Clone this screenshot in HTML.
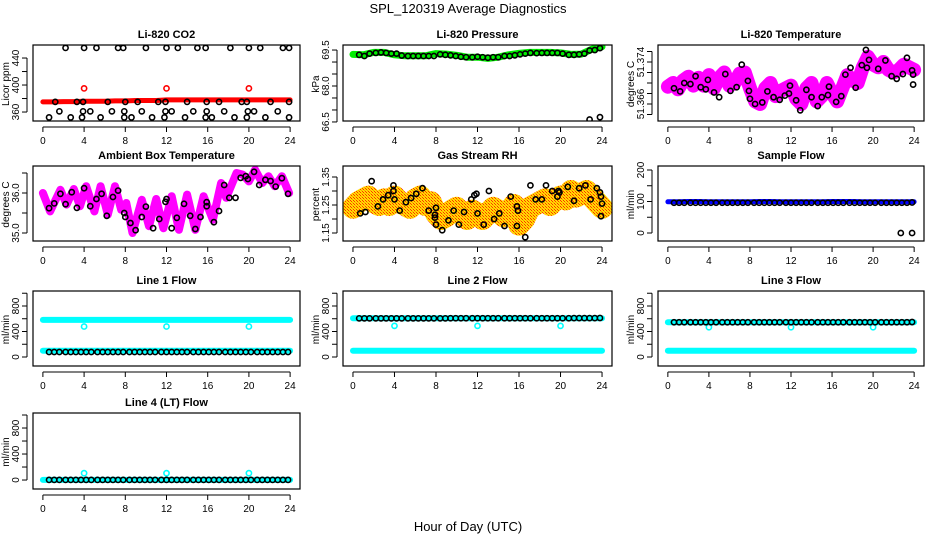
<!DOCTYPE html>
<html><head><meta charset="utf-8"><style>
html,body{margin:0;padding:0;background:#fff;}
svg{display:block;font-family:"Liberation Sans",Arial,sans-serif;}
</style></head><body>
<svg id="fig" width="936" height="540" viewBox="0 0 936 540">
<rect width="936" height="540" fill="#fff"/>
<defs>
<pattern id="rhpat" width="3" height="3" patternUnits="userSpaceOnUse"><rect width="3" height="3" fill="#ffdd00"/><rect width="1" height="1" fill="#ff3000"/><rect x="1" y="1" width="1" height="1" fill="#ff9900"/><rect x="2" y="2" width="1" height="1" fill="#ff3000"/></pattern>
</defs>
<text x="468" y="13" text-anchor="middle" font-size="13">SPL_120319  Average Diagnostics</text>
<text x="468" y="531" text-anchor="middle" font-size="13">Hour of Day (UTC)</text>
</svg>
<script>
// ---------- data ----------
const blkHours=[0.6,1.1,1.6,2.2,2.7,3.2,3.7,4.2,4.7,5.3,5.8,6.3,6.8,7.3,7.8,8.4,8.9,9.4,9.9,10.4,10.9,11.5,12.0,12.5,13.0,13.5,14.0,14.6,15.1,15.6,16.1,16.6,17.1,17.7,18.2,18.7,19.2,19.7,20.2,20.8,21.3,21.8,22.3,22.8,23.3,23.8];
const hourHours=[0,1,2,3,4,5,6,7,8,9,10,11,12,13,14,15,16,17,18,19,20,21,22,23,24];
const halfHours=[0,0.5,1,1.5,2,2.5,3,3.5,4,4.5,5,5.5,6,6.5,7,7.5,8,8.5,9,9.5,10,10.5,11,11.5,12,12.5,13,13.5,14,14.5,15,15.5,16,16.5,17,17.5,18,18.5,19,19.5,20,20.5,21,21.5,22,22.5,23,23.5,24];
const outHours=[4,12,20];

// CO2
const co2Red=[375,375,375.5,375.5,376,376,376,376.5,376.5,377,377,377,378,378,378,378,378,378,378,378,378,378,378,378,378];
const co2RedOut=[395,395,395];
const co2BlkHours=[2.2,4.0,5.2,7.3,7.8,10.0,12.0,13.1,15.0,15.8,18.2,20.0,21.1,23.3,23.9,1.2,3.3,3.9,6.3,8.0,9.2,11.2,11.9,14.0,15.9,17.1,19.3,19.8,22.1,23.9,1.6,3.9,4.6,6.7,7.9,9.6,11.9,12.5,14.6,15.9,17.6,19.9,20.5,22.8,0.6,2.7,3.8,5.6,7.9,8.6,10.6,11.8,13.8,15.8,16.4,18.6,19.8,21.6,23.9];
const co2BlkVals=[455,455,455,455,455,455,455,455,455,455,455,455,455,455,455,375,375,375,375,375,375,375,375,375,375,375,375,375,375,375,361,361,361,361,361,361,361,361,361,361,361,361,361,361,352,352,352,352,352,352,352,352,352,352,352,352,352,352,352];

// Pressure
const presGreen=[69.32,69.3,69.4,69.4,69.3,69.26,69.26,69.26,69.35,69.33,69.28,69.2,69.2,69.15,69.2,69.3,69.36,69.4,69.4,69.4,69.38,69.32,69.33,69.53,69.64];
const presBlk=[69.3,69.25,69.35,69.38,69.4,69.38,69.35,69.35,69.27,69.25,69.25,69.25,69.25,69.25,69.25,69.32,69.3,69.28,69.25,69.22,69.2,69.2,69.22,69.2,69.18,69.2,69.2,69.25,69.25,69.28,69.32,69.35,69.38,69.37,69.38,69.38,69.38,69.38,69.35,69.3,69.3,69.32,69.35,69.48,69.5,69.58];
const presOutHours=[22.8,23.8];
const presOutVals=[66.6,66.7];

// Li-820 temperature
const tempMag=[51.3693,51.3700,51.3688,51.3705,51.3712,51.3695,51.3710,51.3695,51.3715,51.3690,51.3710,51.3720,51.3695,51.3700,51.3718,51.3720,51.3690,51.3665,51.3660,51.3690,51.3700,51.3675,51.3685,51.3690,51.3695,51.3670,51.3660,51.3690,51.3700,51.3665,51.3675,51.3700,51.3680,51.3665,51.3690,51.3715,51.3705,51.3700,51.3730,51.3750,51.3735,51.3730,51.3740,51.3725,51.3720,51.3725,51.3735,51.3730,51.3725];
const tempBlkHours=[0.6,1.2,1.6,2.2,2.7,3.2,3.7,3.9,4.5,5.0,5.6,6.1,6.7,7.2,7.8,7.9,8.0,8.5,9.2,9.7,10.3,10.9,11.4,11.8,11.9,12.5,12.9,13.5,14.0,14.6,15.0,15.6,15.7,16.4,16.9,17.3,17.8,18.3,18.9,19.3,19.4,19.6,20.5,21.2,21.8,22.3,22.9,23.3,23.8,23.9,23.9];
const tempBlkVals=[51.369,51.3684,51.370,51.3698,51.3713,51.3692,51.3688,51.3706,51.3682,51.3673,51.3717,51.3685,51.3692,51.3735,51.3704,51.3685,51.367,51.366,51.3663,51.3684,51.3673,51.3668,51.3676,51.368,51.3695,51.3667,51.3648,51.3687,51.3673,51.3656,51.3673,51.3677,51.3693,51.3664,51.3675,51.3716,51.3729,51.3691,51.3734,51.3763,51.3729,51.3744,51.3727,51.3743,51.3713,51.3708,51.3717,51.3748,51.3724,51.3716,51.3697];

// Ambient box temperature
const ambHours=[0,0.7,1.7,2.3,3.0,3.6,4.2,5.0,5.6,6.3,7.0,7.6,8.1,8.7,9.6,10.3,11.0,11.7,12.5,13.2,14.0,14.8,15.6,16.5,17.3,17.8,18.8,19.4,20.0,20.6,21.3,21.9,22.5,23.2,23.9];
const ambVals=[36.0,35.54,36.08,35.71,36.1,35.67,36.17,35.54,36.17,35.46,36.17,35.58,35.75,35.0,35.83,35.17,35.85,35.12,35.92,35.08,35.96,35.08,35.92,35.33,36.25,35.88,36.5,36.46,36.29,36.58,36.25,36.42,36.17,36.42,36.0];
const ambBlkHours=[0.6,1.1,1.7,2.2,2.8,3.3,4.0,4.6,5.2,5.7,6.2,6.8,7.3,7.9,8.0,8.5,9.0,9.6,10.0,10.7,11.3,11.9,12.0,12.5,13.0,13.7,14.3,14.8,15.3,15.9,15.9,16.6,17.1,17.6,18.1,18.7,19.2,19.7,19.9,20.5,21.0,21.6,22.1,22.6,23.2,23.8];
const ambBlkVals=[35.62,35.74,35.98,35.72,36.02,35.63,36.12,35.67,35.85,35.98,35.43,35.9,36.06,35.5,35.4,35.25,35.07,35.4,35.66,35.12,35.35,35.78,35.85,35.12,35.38,35.73,35.43,35.1,35.4,35.77,35.67,35.27,35.55,36.2,35.88,35.88,36.38,36.42,36.35,36.53,36.2,36.33,36.3,36.16,36.37,35.98];

// Gas stream RH
const rhVals=[1.24,1.26,1.27,1.28,1.26,1.25,1.27,1.25,1.28,1.26,1.25,1.24,1.27,1.28,1.25,1.26,1.22,1.20,1.21,1.23,1.24,1.22,1.20,1.23,1.22,1.20,1.22,1.24,1.23,1.21,1.22,1.25,1.18,1.20,1.24,1.25,1.26,1.27,1.25,1.27,1.28,1.27,1.30,1.28,1.29,1.30,1.28,1.26,1.24];
const rhBlkHours=[0.7,1.2,1.8,2.4,2.9,3.4,3.9,3.9,4.0,4.5,5.1,5.6,6.1,6.7,7.3,7.9,7.9,8.0,8.0,8.6,9.2,9.7,10.2,10.7,11.4,11.7,11.9,12.0,12.6,13.1,13.6,14.1,14.6,15.2,15.8,15.9,15.8,16.6,17.1,17.6,18.2,18.6,19.2,19.7,19.9,19.8,20.7,21.3,21.8,22.4,22.9,23.5,23.8,23.9,23.9,24.0];
const rhBlkVals=[1.22,1.225,1.335,1.245,1.27,1.285,1.32,1.30,1.27,1.23,1.26,1.275,1.29,1.31,1.23,1.215,1.205,1.24,1.18,1.16,1.195,1.23,1.18,1.225,1.27,1.285,1.29,1.22,1.18,1.30,1.20,1.22,1.175,1.28,1.245,1.23,1.175,1.135,1.32,1.27,1.27,1.32,1.30,1.28,1.295,1.30,1.315,1.265,1.31,1.32,1.27,1.31,1.295,1.28,1.21,1.255];

// Sample flow
const sampBlue=[99,99,100,100,99,99,99,99,99,100,100,99,99,99,99,99,100,100,100,99,99,99,99,99,99];
const sampBlk=[96,96,96,96,96,96,96,96,96,96,96,96,96,96,96,96,96,96,96,96,96,96,96,96,96,96,96,96,96,96,96,96,96,96,96,96,96,96,96,96,96,96,96,96,96,97];
const sampOutHours=[22.7,23.8];
const sampOutVals=[0,0];

// Line flows
const l1High=[582,582,582,582,582,582,582,582,582,582,582,582,582,582,582,582,582,582,582,582,582,582,582,582,582];
const l1Low=[99,99,99,99,99,99,99,99,99,99,99,99,99,99,99,99,99,99,99,99,99,99,99,99,99];
const l1Blk=[78,78,78,78,78,78,78,78,78,78,78,78,78,78,78,78,78,78,78,78,78,78,78,78,78,78,78,78,78,78,78,78,78,78,78,78,78,78,78,78,78,78,78,78,78,78];
const l1Out=[478,478,478];
const l2High=[608,608,608,608,608,608,608,608,608,608,608,608,608,608,608,608,608,608,608,608,608,608,608,608,608];
const l2Low=[99,99,99,99,99,99,99,99,99,99,99,99,99,99,99,99,99,99,99,99,99,99,99,99,99];
const l2Blk=[606,606,606,606,606,606,606,606,606,606,606,606,606,606,606,606,606,608,608,608,608,608,608,608,608,608,608,608,608,608,608,608,608,608,608,608,608,608,608,608,610,610,610,610,610,612];
const l2Out=[488,488,488];
const l3High=[545,545,545,545,545,545,545,545,545,545,545,545,545,545,545,545,545,545,545,545,545,545,545,545,545];
const l3Low=[99,99,99,99,99,99,99,99,99,99,99,99,99,99,99,99,99,99,99,99,99,99,99,99,99];
const l3Blk=[545,545,545,545,545,545,545,545,545,545,545,545,545,545,545,545,545,545,545,545,545,545,545,545,545,545,545,545,545,545,545,545,545,545,545,545,545,545,545,545,545,545,545,545,545,548];
const l3Out=[467,467,467];
const l4Cyan=[2,2,2,2,2,2,2,2,2,2,2,2,2,2,2,2,2,2,2,2,2,2,2,2,2];
const l4Blk=[2,2,2,2,2,2,2,2,2,2,2,2,2,2,2,2,2,2,2,2,2,2,2,2,2,2,2,2,2,2,2,2,2,2,2,2,2,2,2,2,2,2,2,2,2,2];
const l4Out=[105,105,105];

const xTicks=[0,4,8,12,16,20,24];

// ---------- drawing ----------
const NS='http://www.w3.org/2000/svg';
const svg=document.getElementById('fig');
function mk(tag,attrs,parent){const e=document.createElementNS(NS,tag);for(const k in attrs)e.setAttribute(k,attrs[k]);(parent||svg).appendChild(e);return e;}

function panel(key,L,T,W,H,ymin,ymax,yticks,ylabels,title,ylab){
  const g=mk('g',{});
  
  
  const xs=h=>L+(h+0.96)/25.92*W;
  const ys=v=>T+H-(v-ymin)/(ymax-ymin)*H;
  const t=mk('text',{x:L+W/2,y:T-7,'text-anchor':'middle','font-size':11,'font-weight':'bold'},g);
  t.textContent=title;
  
  
  const xa=mk('g',{stroke:'#000','stroke-width':1},g);
  
  
  mk('line',{x1:xs(xTicks[0]),x2:xs(xTicks[xTicks.length-1]),y1:T+H+6,y2:T+H+6},xa);
  xTicks.forEach(v=>{
    mk('line',{x1:xs(v),x2:xs(v),y1:T+H+6,y2:T+H+11},xa);
    const lt=mk('text',{x:xs(v),y:T+H+23,'text-anchor':'middle','font-size':10,stroke:'none'},xa);
    lt.textContent=v;
    
    
  });
  const ya=mk('g',{stroke:'#000','stroke-width':1},g);
  
  
  mk('line',{x1:L-6,x2:L-6,y1:ys(yticks[0]),y2:ys(yticks[yticks.length-1])},ya);
  yticks.forEach(v=>mk('line',{x1:L-11,x2:L-6,y1:ys(v),y2:ys(v)},ya));
  ylabels.forEach(lb=>{
    const yy=ys(parseFloat(lb));
    const lt=mk('text',{x:0,y:0,'text-anchor':'middle','font-size':10,stroke:'none',transform:`translate(${L-14},${yy}) rotate(-90)`},ya);
    lt.textContent=lb;
    
    
  });
  const yt=mk('text',{x:0,y:0,'text-anchor':'middle','font-size':10,transform:`translate(${L-24},${T+H/2+1}) rotate(-90)`},g);
  yt.textContent=ylab;
  
  
  const clipId='clip-'+key;
  const cp=mk('clipPath',{id:clipId},g);mk('rect',{x:L,y:T,width:W,height:H},cp);
  const plot=mk('g',{'clip-path':`url(#${clipId})`},g);
  
  
  const box=mk('rect',{x:L,y:T,width:W,height:H,fill:'none',stroke:'#000','stroke-width':1.2},g);
  
  
  return {xs,ys,plot};
}
function band(p,name,hours,vals,color,width){
  const pts=hours.map((h,i)=>p.xs(h).toFixed(1)+','+p.ys(vals[i]).toFixed(1)).join(' ');
  const pl=mk('polyline',{points:pts,fill:'none',stroke:color,'stroke-width':width,'stroke-linejoin':'round','stroke-linecap':'round'},p.plot);
  
  
}
function pts(p,name,hours,vals,color,r,sw){
  const g=mk('g',{fill:'none',stroke:color,'stroke-width':sw||1.6},p.plot);
  
  
  hours.forEach((h,i)=>{
    const c=mk('circle',{cx:p.xs(h),cy:p.ys(vals[i]),r:r||2.6},g);
    
    
  });
}
const cols=[[33,267],[343,269],[658,266]];
const rows=[[45,76],[166,75],[291,75],[413,76]];
const flowTicks=[0,200,400,600,800,1000];
const flowLabels=['0','400','800'];

let p=panel('co2',cols[0][0],rows[0][0],cols[0][1],rows[0][1],346.7,459.3,[360,380,400,420,440],['360','400','440'],'Li-820 CO2','Licor ppm');
band(p,'co2-red-band',hourHours,co2Red,'#ff0000',5);
pts(p,'co2-red-outliers',outHours,co2RedOut,'#ff0000');
pts(p,'co2-black-points',co2BlkHours,co2BlkVals,'#000');

p=panel('pressure',cols[1][0],rows[0][0],cols[1][1],rows[0][1],66.54,69.71,[66.5,67.0,67.5,68.0,68.5,69.0,69.5],['66.5','68.0','69.5'],'Li-820 Pressure','kPa');
band(p,'pressure-green-band',hourHours,presGreen,'#00ee00',7);
pts(p,'pressure-black-points',blkHours,presBlk,'#000');
pts(p,'pressure-outliers',presOutHours,presOutVals,'#000');

p=panel('li820-temp',cols[2][0],rows[0][0],cols[2][1],rows[0][1],51.36276,51.37724,[51.364,51.366,51.368,51.370,51.372,51.374,51.376],['51.366','51.374'],'Li-820 Temperature','degrees C');
band(p,'temp-magenta-band',halfHours,tempMag,'#ff00ff',14);
pts(p,'temp-magenta-points',halfHours,tempMag,'#ff00ff',3.5,2);
pts(p,'temp-black-points',tempBlkHours,tempBlkVals,'#000');

p=panel('ambient',cols[0][0],rows[1][0],cols[0][1],rows[1][1],34.8,36.675,[35.0,35.5,36.0,36.5],['35.0','36.0'],'Ambient Box Temperature','degrees C');
band(p,'ambient-magenta-band',ambHours,ambVals,'#ff00ff',8);
pts(p,'ambient-black-points',ambBlkHours,ambBlkVals,'#000');

p=panel('rh',cols[1][0],rows[1][0],cols[1][1],rows[1][1],1.1214,1.3893,[1.15,1.20,1.25,1.30,1.35],['1.15','1.25','1.35'],'Gas Stream RH','percent');
band(p,'rh-band',halfHours,rhVals,'url(#rhpat)',22);
pts(p,'rh-black-points',rhBlkHours,rhBlkVals,'#000');

p=panel('sample-flow',cols[2][0],rows[1][0],cols[2][1],rows[1][1],-25.4,212.7,[0,50,100,150,200],['0','100','200'],'Sample Flow','ml/min');
band(p,'sample-blue-band',hourHours,sampBlue,'#0000ff',5);
pts(p,'sample-black-points',blkHours,sampBlk,'#000');
pts(p,'sample-outliers',sampOutHours,sampOutVals,'#000');

p=panel('line1',cols[0][0],rows[2][0],cols[0][1],rows[2][1],-141,1035,flowTicks,flowLabels,'Line 1 Flow','ml/min');
band(p,'line1-cyan-high',hourHours,l1High,'#00ffff',6);
band(p,'line1-cyan-low',hourHours,l1Low,'#00ffff',6);
pts(p,'line1-cyan-outliers',outHours,l1Out,'#00ffff');
pts(p,'line1-black-points',blkHours,l1Blk,'#000');

p=panel('line2',cols[1][0],rows[2][0],cols[1][1],rows[2][1],-141,1035,flowTicks,flowLabels,'Line 2 Flow','ml/min');
band(p,'line2-cyan-high',hourHours,l2High,'#00ffff',6);
band(p,'line2-cyan-low',hourHours,l2Low,'#00ffff',6);
pts(p,'line2-cyan-outliers',outHours,l2Out,'#00ffff');
pts(p,'line2-black-points',blkHours,l2Blk,'#000');

p=panel('line3',cols[2][0],rows[2][0],cols[2][1],rows[2][1],-141,1035,flowTicks,flowLabels,'Line 3 Flow','ml/min');
band(p,'line3-cyan-high',hourHours,l3High,'#00ffff',6);
band(p,'line3-cyan-low',hourHours,l3Low,'#00ffff',6);
pts(p,'line3-cyan-outliers',outHours,l3Out,'#00ffff');
pts(p,'line3-black-points',blkHours,l3Blk,'#000');

p=panel('line4',cols[0][0],rows[3][0],cols[0][1],rows[3][1],-138,1031,flowTicks,flowLabels,'Line 4 (LT) Flow','ml/min');
band(p,'line4-cyan-band',hourHours,l4Cyan,'#00ffff',6);
pts(p,'line4-cyan-outliers',outHours,l4Out,'#00ffff');
pts(p,'line4-black-points',blkHours,l4Blk,'#000');
</script>
</body></html>
